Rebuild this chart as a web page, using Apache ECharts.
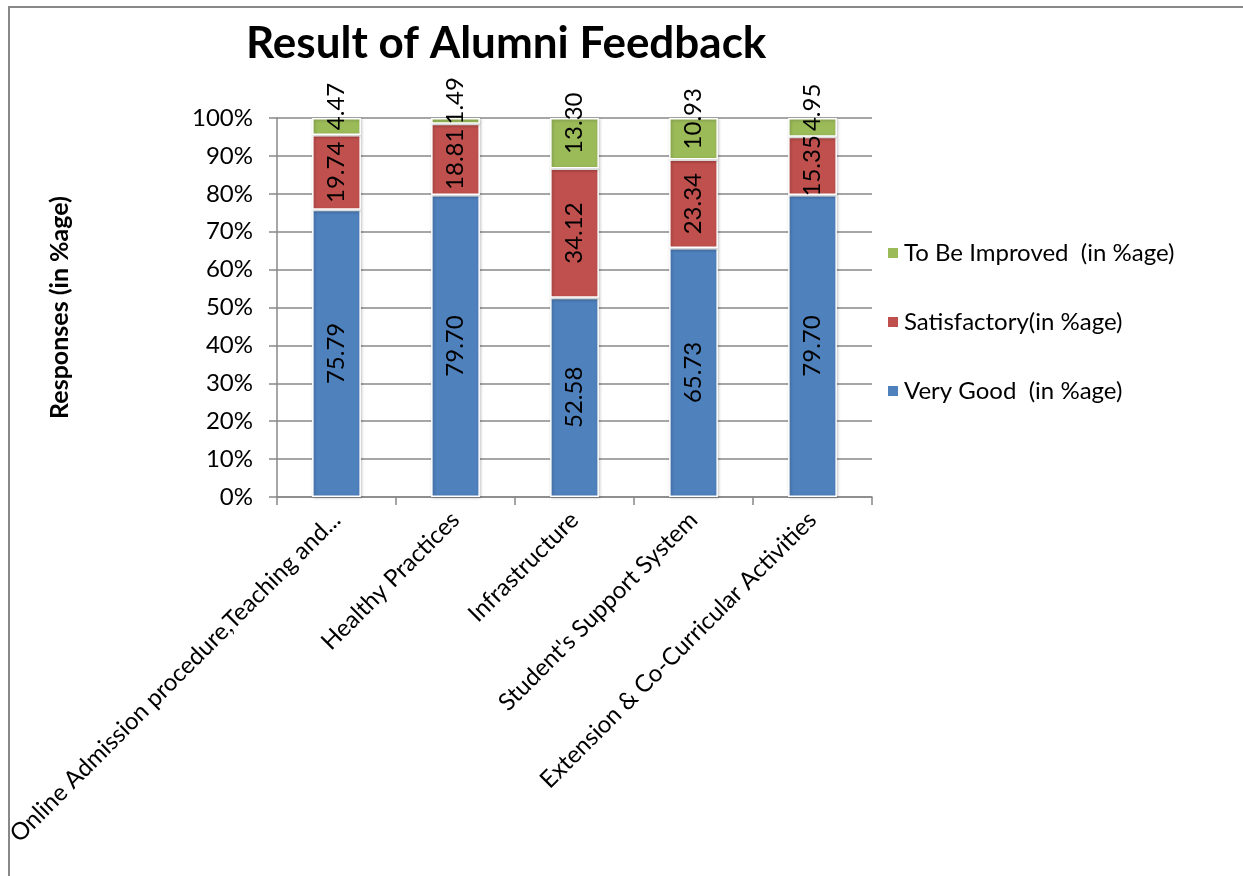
<!DOCTYPE html>
<html>
<head>
<meta charset="utf-8">
<script src="https://cdn.jsdelivr.net/npm/echarts@6/dist/echarts.min.js"></script>
<style>
  html, body { margin: 0; padding: 0; background: #fff; }
  #chart { width: 1243px; height: 876px; }
</style>
</head>
<body>
<div id="chart"></div>
<script>
const categories = [
    'Online Admission procedure,Teaching and...',
    'Healthy Practices',
    'Infrastructure',
    "Student's Support System",
    'Extension & Co-Curricular Activities'
]
const veryGood = [75.79, 79.70, 52.58, 65.73, 79.70]
const satisfactory = [19.74, 18.81, 34.12, 23.34, 15.35]
const toBeImproved = [4.47, 1.49, 13.30, 10.93, 4.95]
const seriesNames = ['Very Good  (in %age)', 'Satisfactory(in %age)', 'To Be Improved  (in %age)']

const font = 'Lato, "Open Sans", sans-serif'

const chart = echarts.init(document.getElementById('chart'))

// label offset is in the rotated text frame: +x moves the label up the bar
function barSeries(name, values, color, labelShift) {
    return {
        name: name,
        type: 'bar',
        stack: 'total',
        barWidth: '41%',
        data: values,
        itemStyle: {
            color: color,
            borderColor: '#fff',
            borderWidth: 1.5,
            shadowColor: 'rgba(0,0,0,0.25)',
            shadowBlur: 3,
            shadowOffsetX: 1,
            shadowOffsetY: 1
        },
        label: {
            show: true,
            position: 'inside',
            rotate: 90,
            offset: [labelShift, 0],
            color: '#000',
            fontFamily: font,
            fontSize: 24,
            formatter: p => p.value.toFixed(2)
        }
    }
}

chart.setOption({
    animation: false,
    backgroundColor: '#fff',
    title: {
        text: 'Result of Alumni Feedback',
        left: 241,
        top: 17,
        textStyle: {
            fontFamily: font,
            fontWeight: 'bold',
            fontSize: 44,
            color: '#000'
        }
    },
    legend: {
        orient: 'vertical',
        left: 881,
        top: 236,
        itemGap: 45,
        itemWidth: 12,
        itemHeight: 12,
        icon: 'rect',
        data: [seriesNames[2], seriesNames[1], seriesNames[0]],
        textStyle: {
            fontFamily: font,
            fontSize: 24,
            color: '#000'
        }
    },
    grid: {
        left: 277,
        right: 371,
        top: 118,
        bottom: 379
    },
    xAxis: {
        type: 'category',
        data: categories,
        axisLine: { lineStyle: { color: '#888', width: 1.5 } },
        axisTick: { show: true, alignWithLabel: false, length: 8, lineStyle: { color: '#888', width: 1.5 } },
        axisLabel: {
            rotate: 45,
            interval: 0,
            margin: 19,
            color: '#000',
            fontFamily: font,
            fontSize: 24
        }
    },
    yAxis: {
        type: 'value',
        min: 0,
        max: 100,
        interval: 10,
        name: 'Responses (in %age)',
        nameLocation: 'middle',
        nameGap: 205,
        nameTextStyle: {
            fontFamily: font,
            fontWeight: 'bold',
            fontSize: 25,
            color: '#000'
        },
        axisLine: { show: true, lineStyle: { color: '#888', width: 1.5 } },
        axisTick: { show: true, length: 8, lineStyle: { color: '#888', width: 1.5 } },
        splitLine: { lineStyle: { color: '#888', width: 1.5 } },
        axisLabel: {
            formatter: '{value}%',
            margin: 24,
            color: '#000',
            fontFamily: font,
            fontSize: 24
        }
    },
    graphic: [{
        type: 'polyline',
        silent: true,
        shape: { points: [[9, 876], [9, 7], [1243, 7]] },
        style: { stroke: '#888', lineWidth: 2, fill: null }
    }],
    series: [
        barSeries(seriesNames[0], veryGood, '#4F81BD', 0),
        barSeries(seriesNames[1], satisfactory, '#C0504D', 0),
        barSeries(seriesNames[2], toBeImproved, '#9BBB59', 20)
    ]
})
</script>
</body>
</html>
